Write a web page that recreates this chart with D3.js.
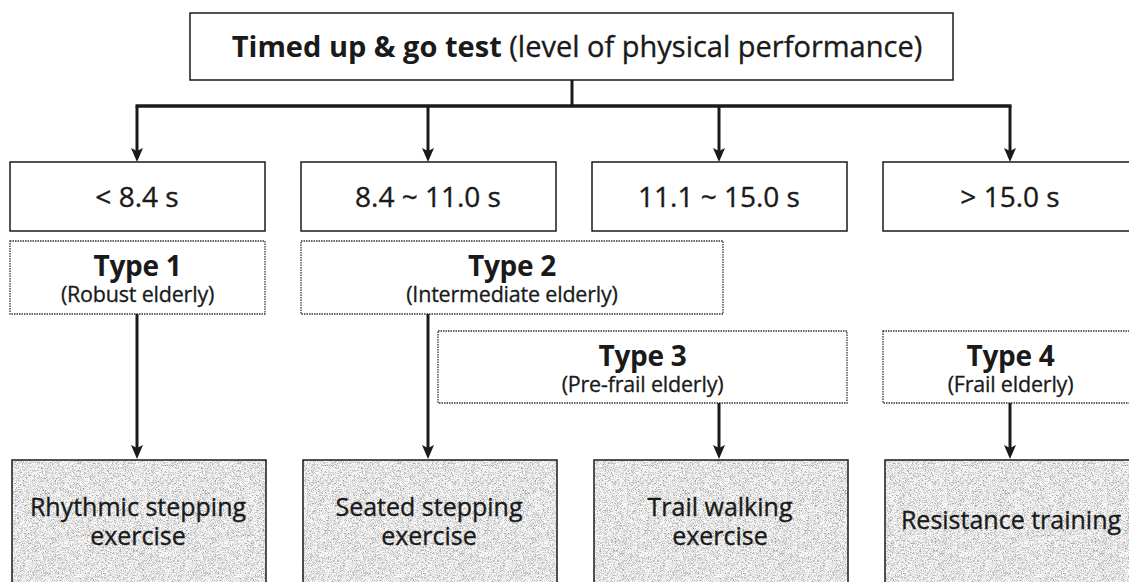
<!DOCTYPE html>
<html>
<head>
<meta charset="utf-8">
<script src="https://cdn.jsdelivr.net/npm/d3@7"></script>
<style>
  body { margin: 0; background: #fff; }
  svg { display: block; font-family: "Open Sans", "Noto Sans", sans-serif; }
</style>
</head>
<body>
<svg id="chart" width="1129" height="582"></svg>
<script>
// chart content
const titleBold = "Timed up & go test";
const titleRest = " (level of physical performance)";
const ranges = ["< 8.4 s", "8.4 ~ 11.0 s", "11.1 ~ 15.0 s", "> 15.0 s"];
const types = ["Type 1", "Type 2", "Type 3", "Type 4"];
const typeLabels = ["(Robust elderly)", "(Intermediate elderly)", "(Pre-frail elderly)", "(Frail elderly)"];
const exercises = [
    ["Rhythmic stepping", "exercise"],
    ["Seated stepping", "exercise"],
    ["Trail walking", "exercise"],
    ["Resistance training"]
];

const svg = d3.select("#chart");

// one column per time range
const x = d3.scalePoint()
    .domain(d3.range(ranges.length))
    .range([137, 1010]);
const boxW = 255;
const left = i => x(i) - 127;
const right = i => x(i) + 128;

const ink = "#1a1a1a";
const headLen = 14;

// defs: arrow head + grainy fill
const defs = svg.append("defs");
defs.append("marker")
    .attr("id", "head")
    .attr("markerUnits", "userSpaceOnUse")
    .attr("viewBox", "0 0 14 12")
    .attr("refX", 5).attr("refY", 6)
    .attr("markerWidth", 14).attr("markerHeight", 12)
    .attr("orient", "auto")
    .append("path")
    .attr("d", "M0,0 L14,6 L0,12 L3,6 Z")
    .attr("fill", ink);

const f = defs.append("filter")
    .attr("id", "grain")
    .attr("x", 0).attr("y", 0).attr("width", 1).attr("height", 1);
f.append("feTurbulence")
    .attr("type", "fractalNoise")
    .attr("baseFrequency", 1.6)
    .attr("numOctaves", 1)
    .attr("seed", 7)
    .attr("result", "t");
f.append("feColorMatrix")
    .attr("in", "t")
    .attr("type", "matrix")
    .attr("values", "1.7 0 0 0 -0.07  1.7 0 0 0 -0.07  1.7 0 0 0 -0.07  0 0 0 0 1")
    .attr("result", "g");
f.append("feComposite")
    .attr("in", "g")
    .attr("in2", "SourceGraphic")
    .attr("operator", "in");

// vertical layout
const titleRow = { y0: 13, y1: 80 };
const barY = 106;
const rangeRow = { y0: 162, y1: 231 };
const typeRows = [{ y0: 241, y1: 314 }, { y0: 331, y1: 403 }];
const exRow = { y0: 460, y1: 600 };

// type boxes span different columns
const typeSpan = [
    [left(0), right(0)],
    [left(1), x(2) + 4],
    [x(1) + 10, right(2)],
    [left(3), right(3)]
];
const typeRow = [0, 0, 1, 1];

// title box
svg.append("rect")
    .attr("x", 190).attr("y", titleRow.y0)
    .attr("width", 763).attr("height", titleRow.y1 - titleRow.y0)
    .attr("fill", "#fff").attr("stroke", ink).attr("stroke-width", 1.5);

const title = svg.append("text")
    .attr("x", 577).attr("y", 57)
    .attr("text-anchor", "middle")
    .attr("font-size", 29)
    .attr("fill", ink);
title.append("tspan").attr("font-weight", "bold").text(titleBold);
title.append("tspan")
    .attr("stroke", ink).attr("stroke-width", 0.35)
    .text(titleRest);

// connector tree
svg.append("line")
    .attr("x1", 572).attr("x2", 572)
    .attr("y1", titleRow.y1).attr("y2", barY)
    .attr("stroke", ink).attr("stroke-width", 3);
svg.append("line")
    .attr("x1", x(0) - 1.5).attr("x2", x(ranges.length - 1) + 1.5)
    .attr("y1", barY).attr("y2", barY)
    .attr("stroke", ink).attr("stroke-width", 3.5);

svg.append("g")
    .selectAll("line")
    .data(ranges)
    .join("line")
    .attr("x1", (d, i) => x(i)).attr("x2", (d, i) => x(i))
    .attr("y1", barY).attr("y2", rangeRow.y0 - (headLen - 5))
    .attr("stroke", ink).attr("stroke-width", 3)
    .attr("marker-end", "url(#head)");

// range boxes
const rg = svg.append("g")
    .selectAll("g")
    .data(ranges)
    .join("g");
rg.append("rect")
    .attr("x", (d, i) => left(i)).attr("y", rangeRow.y0)
    .attr("width", boxW).attr("height", rangeRow.y1 - rangeRow.y0)
    .attr("fill", "#fff").attr("stroke", ink).attr("stroke-width", 1.5);
rg.append("text")
    .attr("x", (d, i) => x(i)).attr("y", 207)
    .attr("text-anchor", "middle")
    .attr("font-size", 28)
    .attr("fill", ink)
    .attr("stroke", ink).attr("stroke-width", 0.35)
    .text(d => d);

// type boxes (dotted)
const tg = svg.append("g")
    .selectAll("g")
    .data(types)
    .join("g");
tg.append("rect")
    .attr("x", (d, i) => typeSpan[i][0])
    .attr("y", (d, i) => typeRows[typeRow[i]].y0)
    .attr("width", (d, i) => typeSpan[i][1] - typeSpan[i][0])
    .attr("height", (d, i) => typeRows[typeRow[i]].y1 - typeRows[typeRow[i]].y0)
    .attr("fill", "#fff").attr("stroke", "#333")
    .attr("stroke-width", 1.3).attr("stroke-dasharray", "1.5,1");
tg.append("text")
    .attr("x", (d, i) => (typeSpan[i][0] + typeSpan[i][1]) / 2)
    .attr("y", (d, i) => typeRows[typeRow[i]].y0 + 35)
    .attr("text-anchor", "middle")
    .attr("font-size", 28).attr("font-weight", "bold")
    .attr("letter-spacing", -0.3)
    .attr("fill", ink)
    .text(d => d);
tg.append("text")
    .attr("x", (d, i) => (typeSpan[i][0] + typeSpan[i][1]) / 2)
    .attr("y", (d, i) => typeRows[typeRow[i]].y0 + 61)
    .attr("text-anchor", "middle")
    .attr("font-size", 21.5)
    .attr("letter-spacing", -0.2)
    .attr("fill", ink)
    .attr("stroke", ink).attr("stroke-width", 0.3)
    .text((d, i) => typeLabels[i]);

// arrows down to exercises
svg.append("g")
    .selectAll("line")
    .data(types)
    .join("line")
    .attr("x1", (d, i) => x(i)).attr("x2", (d, i) => x(i))
    .attr("y1", (d, i) => typeRows[typeRow[i]].y1)
    .attr("y2", exRow.y0 - 1 - (headLen - 5))
    .attr("stroke", ink).attr("stroke-width", 3)
    .attr("marker-end", "url(#head)");

// exercise boxes
const eg = svg.append("g")
    .selectAll("g")
    .data(exercises)
    .join("g");
eg.append("rect")
    .attr("x", (d, i) => left(i) + 2).attr("y", exRow.y0)
    .attr("width", boxW - 1).attr("height", exRow.y1 - exRow.y0)
    .attr("fill", "#ccc")
    .attr("filter", "url(#grain)");
eg.append("rect")
    .attr("x", (d, i) => left(i) + 2).attr("y", exRow.y0)
    .attr("width", boxW - 1).attr("height", exRow.y1 - exRow.y0)
    .attr("fill", "none").attr("stroke", ink).attr("stroke-width", 1.5);
eg.append("text")
    .attr("text-anchor", "middle")
    .attr("font-size", 25)
    .attr("fill", ink)
    .attr("stroke", ink).attr("stroke-width", 0.35)
    .selectAll("tspan")
    .data((d, i) => d.map(t => ({ t, i, n: d.length })))
    .join("tspan")
    .attr("x", d => x(d.i) + 1)
    .attr("y", (d, j) => d.n === 1 ? 529 : 516 + j * 29)
    .text(d => d.t);
</script>
</body>
</html>
